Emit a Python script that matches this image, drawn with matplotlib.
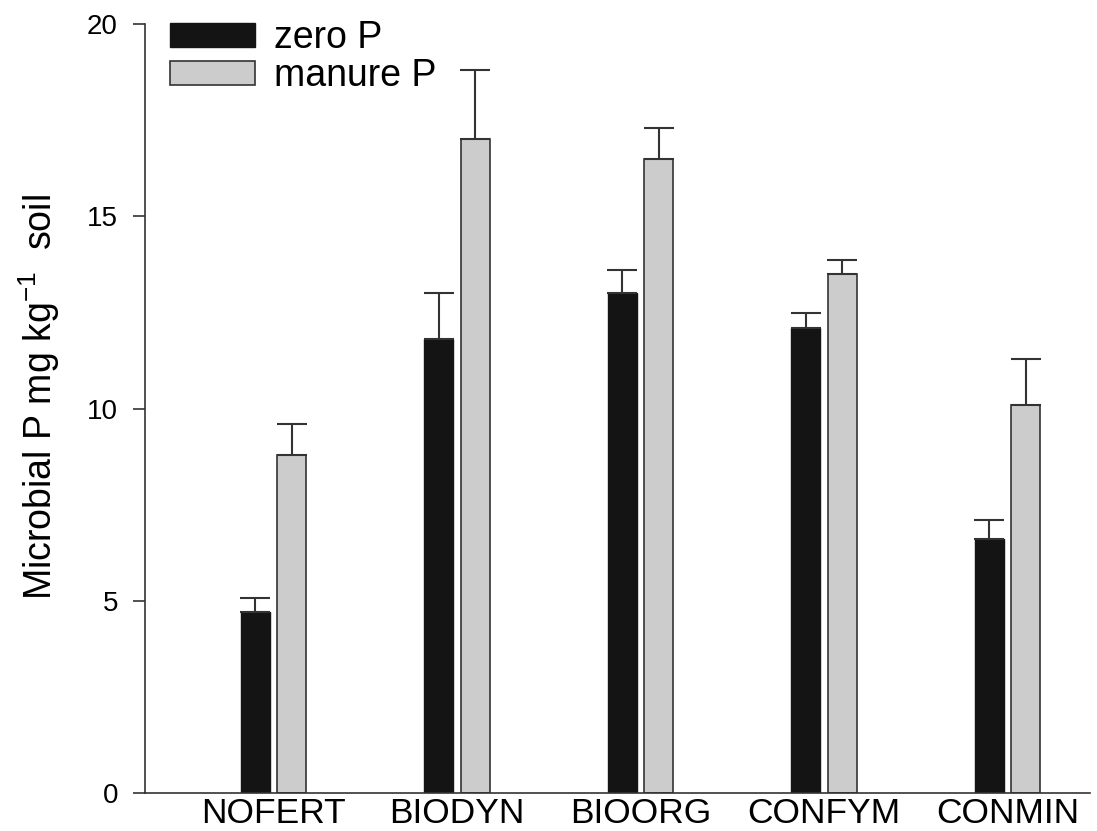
import numpy as np
import matplotlib
matplotlib.use("Agg")
import matplotlib.pyplot as plt

plt.rcParams['font.family'] = ['Liberation Sans', 'DejaVu Sans']

# data
treatments = ["NOFERT", "BIODYN", "BIOORG", "CONFYM", "CONMIN"]
zero_p = [4.7, 11.8, 13.0, 12.1, 6.6]
zero_p_err = [0.38, 1.2, 0.6, 0.38, 0.5]
manure_p = [8.8, 17.0, 16.5, 13.5, 10.1]
manure_p_err = [0.8, 1.8, 0.8, 0.35, 1.2]
y_ticks = [0, 5, 10, 15, 20]

x = np.arange(len(treatments))
width = 0.158
offset = 0.1

fig = plt.figure(figsize=(10.97, 8.31), dpi=100)
ax = fig.add_axes([0.1322, 0.0457, 0.8614, 0.9254])

ax.bar(
    x - offset, zero_p, width,
    color="#141414", edgecolor="#141414", linewidth=1,
    label="zero P",
)
ax.bar(
    x + offset, manure_p, width,
    color="#cccccc", edgecolor="#333333", linewidth=1.2,
    label="manure P",
)

# upper error bars only
ax.errorbar(
    x - offset, zero_p, yerr=[np.zeros(len(x)), zero_p_err],
    fmt="none", ecolor="#333333", elinewidth=1.5, capsize=11, capthick=1.5,
)
ax.errorbar(
    x + offset, manure_p, yerr=[np.zeros(len(x)), manure_p_err],
    fmt="none", ecolor="#333333", elinewidth=1.5, capsize=11, capthick=1.5,
)

ax.set_xlim(-0.70, 4.45)
ax.set_ylim(0, 20)
ax.set_yticks(y_ticks)
ax.set_xticks(x)
ax.set_xticklabels(treatments, fontsize=25.5)
ax.tick_params(axis="y", labelsize=20, length=8.5, width=1.2,
               direction="out", color="#333333", pad=11)
ax.tick_params(axis="x", length=0, pad=3)

for side in ["top", "right"]:
    ax.spines[side].set_visible(False)
for side in ["left", "bottom"]:
    ax.spines[side].set_color("#333333")
    ax.spines[side].set_linewidth(1.2)

ax.set_ylabel(r"Microbial P mg kg$^{\mathregular{-1}}$  soil", fontsize=27)
ax.yaxis.set_label_coords(-0.088, 0.515)

ax.legend(
    loc="upper left",
    bbox_to_anchor=(170 / 1097, 1 - 20 / 831),
    bbox_transform=fig.transFigure,
    frameon=False,
    fontsize=27,
    handlelength=2.27,
    handleheight=0.62,
    handletextpad=0.5,
    labelspacing=0.05,
    borderaxespad=0,
    borderpad=0,
)

fig.savefig("out.png", dpi=100)
